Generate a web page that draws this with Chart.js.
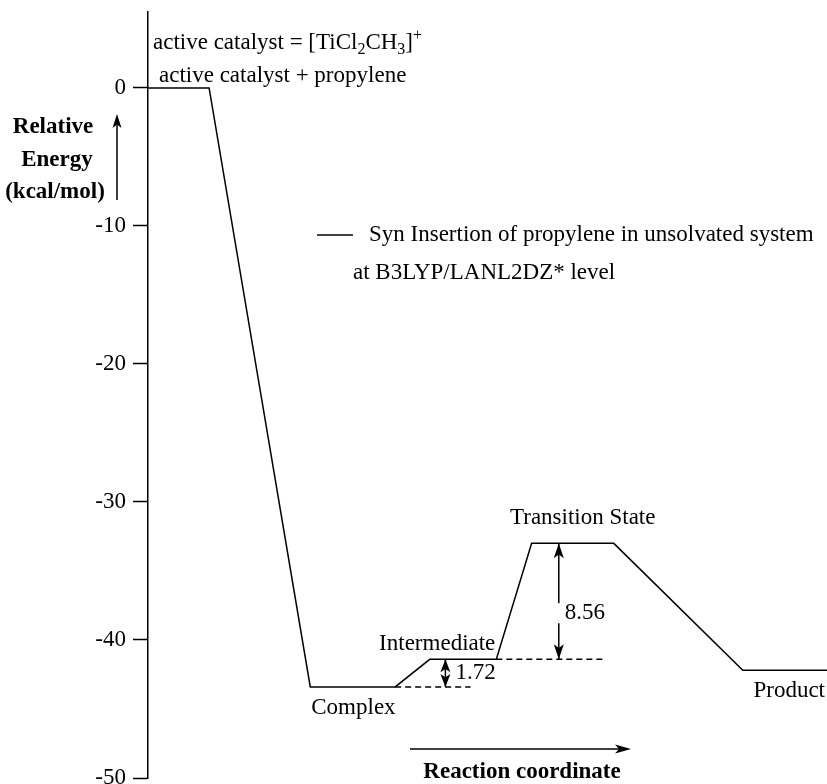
<!DOCTYPE html>
<html>
<head>
<meta charset="utf-8">
<script src="https://cdn.jsdelivr.net/npm/chart.js@4.4.0/dist/chart.umd.min.js"></script>
<style>
  html, body { margin: 0; padding: 0; background: #fff; }
  #wrap { width: 827px; height: 784px; }
</style>
</head>
<body>
<div id="wrap"><canvas id="energyChart" width="827" height="784"></canvas></div>
<script>
// stages along the reaction coordinate (x in arbitrary 0-100 units)
const stages = ['active catalyst + propylene', 'Complex', 'Intermediate', 'Transition State', 'Product'];
const energies = [0, -43.4, -41.4, -33.0, -42.2];
const levelStart = [0, 23.9, 41.5, 56.5, 87.6];
const levelEnd = [9.0, 36.4, 51.3, 68.6, 100];

// barrier annotations: [from stage, to stage, arrow x, dashed line end x]
const gapLabels = ['1.72', '8.56'];
const gapFrom = [1, 3];
const gapTo = [2, 2];
const gapArrowX = [43.8, 60.5];
const dashEnd = [47.5, 67.0];

const yTicks = [0, -10, -20, -30, -40, -50];
const seriesLabel = ['Syn Insertion of propylene in unsolvated system', 'at B3LYP/LANL2DZ* level'];

const SERIF = '"Liberation Serif", "Times New Roman", serif';
const FS = 23;

// build the profile polyline from the level arrays
const profile = [];
stages.forEach((s, i) => {
    profile.push({ x: levelStart[i], y: energies[i] });
    profile.push({ x: levelEnd[i], y: energies[i] });
});

// dashed reference lines
const dashLower = [{ x: levelEnd[1], y: energies[1] }, { x: dashEnd[0], y: energies[1] }];
const dashUpper = [{ x: levelEnd[2], y: energies[2] }, { x: dashEnd[1], y: energies[2] }];

function head(ctx, x, y, dir, len, half) {
    // dir: -1 points up, 1 points down, 2 points right
    ctx.beginPath();
    if (dir === 2) {
        ctx.moveTo(x, y);
        ctx.lineTo(x - len, y - half);
        ctx.lineTo(x - len * 0.75, y);
        ctx.lineTo(x - len, y + half);
    } else {
        ctx.moveTo(x, y);
        ctx.lineTo(x - half, y - dir * len);
        ctx.lineTo(x, y - dir * len * 0.75);
        ctx.lineTo(x + half, y - dir * len);
    }
    ctx.closePath();
    ctx.fill();
}

const decor = {
    id: 'decor',
    afterDatasetsDraw(chart) {
        const ctx = chart.ctx;
        const xs = chart.scales.x, ys = chart.scales.y;
        const area = chart.chartArea;
        ctx.save();
        ctx.fillStyle = '#000';
        ctx.strokeStyle = '#000';
        ctx.lineWidth = 1.5;
        ctx.font = FS + 'px ' + SERIF;
        ctx.textBaseline = 'middle';

        // stage labels
        const y0 = ys.getPixelForValue(energies[0]);
        ctx.textAlign = 'left';
        ctx.fillText(stages[0], xs.getPixelForValue(levelStart[0]) + 11, y0 - 12);
        ctx.fillText(stages[1], xs.getPixelForValue(levelStart[1]) + 1, ys.getPixelForValue(energies[1]) + 21);
        ctx.textAlign = 'right';
        ctx.fillText(stages[2], xs.getPixelForValue(levelEnd[2]) - 1, ys.getPixelForValue(energies[2]) - 15);
        ctx.textAlign = 'center';
        ctx.fillText(stages[3], (xs.getPixelForValue(levelStart[3]) + xs.getPixelForValue(levelEnd[3])) / 2 + 10, ys.getPixelForValue(energies[3]) - 25);
        ctx.textAlign = 'right';
        ctx.fillText(stages[4], area.right - 2, ys.getPixelForValue(energies[4]) + 21);

        // formula line: active catalyst = [TiCl2CH3]+
        ctx.textAlign = 'left';
        ctx.textBaseline = 'alphabetic';
        let fx = area.left + 5;
        const fb = 49;
        const parts = [['active catalyst = [TiCl', 0], ['2', 1], ['CH', 0], ['3', 1], [']', 0], ['+', 2]];
        parts.forEach(([t, k]) => {
            ctx.font = (k ? '16px ' : FS + 'px ') + SERIF;
            const dy = k === 1 ? 5 : (k === 2 ? -9 : 0);
            ctx.fillText(t, fx, fb + dy);
            fx += ctx.measureText(t).width;
        });

        // barrier arrows
        ctx.font = FS + 'px ' + SERIF;
        ctx.textBaseline = 'middle';
        ctx.textAlign = 'left';
        // 1.72: double arrow between complex and intermediate
        {
            const ax = xs.getPixelForValue(gapArrowX[0]);
            const top = ys.getPixelForValue(energies[gapTo[0]]);
            const bot = ys.getPixelForValue(energies[gapFrom[0]]);
            ctx.beginPath();
            ctx.moveTo(ax, top);
            ctx.lineTo(ax, bot);
            ctx.stroke();
            head(ctx, ax, top, -1, 13, 5);
            head(ctx, ax, bot, 1, 13, 5);
            ctx.fillText(gapLabels[0], ax + 10, (top + bot) / 2);
        }
        // 8.56: arrows from label out to TS and intermediate levels
        {
            const ax = xs.getPixelForValue(gapArrowX[1]);
            const top = ys.getPixelForValue(energies[gapFrom[1]]);
            const bot = ys.getPixelForValue(energies[gapTo[1]]);
            const mid = (top + bot) / 2 + 12;
            ctx.beginPath();
            ctx.moveTo(ax, mid - 10);
            ctx.lineTo(ax, top);
            ctx.moveTo(ax, mid + 10);
            ctx.lineTo(ax, bot);
            ctx.stroke();
            head(ctx, ax, top, -1, 15, 5);
            head(ctx, ax, bot, 1, 15, 5);
            ctx.fillText(gapLabels[1], ax + 6, mid);
        }

        // legend
        ctx.beginPath();
        ctx.moveTo(317, 235);
        ctx.lineTo(353, 235);
        ctx.stroke();
        ctx.fillText(seriesLabel[0], 369, 235);
        ctx.fillText(seriesLabel[1], 353, 273);

        // y axis title with up arrow
        ctx.font = 'bold ' + FS + 'px ' + SERIF;
        ctx.textAlign = 'center';
        ctx.fillText('Relative', 53, 127);
        ctx.fillText('Energy', 57, 160);
        ctx.fillText('(kcal/mol)', 55, 192);
        ctx.beginPath();
        ctx.moveTo(117, 200);
        ctx.lineTo(117, 118);
        ctx.stroke();
        head(ctx, 117, 114, -1, 14, 4.5);

        // x axis title with right arrow
        ctx.beginPath();
        ctx.moveTo(410, 749);
        ctx.lineTo(626, 749);
        ctx.stroke();
        head(ctx, 631, 749, 2, 16, 4.5);
        ctx.fillText('Reaction coordinate', 522, 772);

        ctx.restore();
    }
};

const lineStyle = {
    borderColor: '#000',
    borderWidth: 1.5,
    pointRadius: 0,
    tension: 0,
    fill: false
};

new Chart(document.getElementById('energyChart'), {
    type: 'line',
    data: {
        datasets: [
            Object.assign({ label: seriesLabel.join(' '), data: profile }, lineStyle),
            Object.assign({ label: 'lower ref', data: dashLower, borderDash: [6, 4] }, lineStyle),
            Object.assign({ label: 'upper ref', data: dashUpper, borderDash: [6, 4] }, lineStyle)
        ]
    },
    options: {
        responsive: false,
        animation: false,
        layout: { padding: { top: 12, bottom: 6, left: 0, right: 0 } },
        plugins: {
            legend: { display: false },
            tooltip: { enabled: false }
        },
        scales: {
            x: { type: 'linear', min: 0, max: 100, display: false },
            y: {
                min: -50,
                max: 5.5,
                afterFit: (s) => { s.width = 148; s.paddingTop = 0; s.paddingBottom = 0; },
                afterBuildTicks: (s) => { s.ticks = yTicks.map(v => ({ value: v })); },
                ticks: { color: '#000', padding: 7, font: { family: SERIF, size: FS } },
                grid: { drawOnChartArea: false, drawTicks: true, tickLength: 15, tickColor: '#000', tickWidth: 1.5 },
                border: { display: true, color: '#000', width: 1.5 }
            }
        }
    },
    plugins: [decor]
});
</script>
</body>
</html>
